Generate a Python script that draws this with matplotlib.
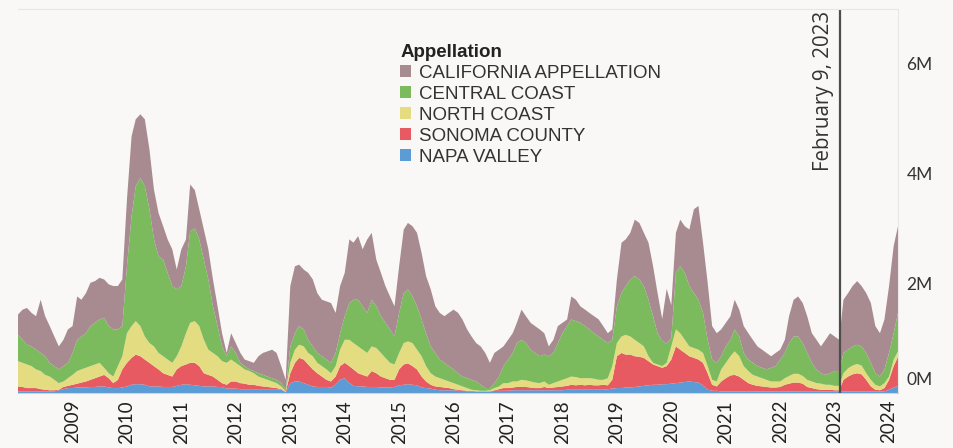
import matplotlib
matplotlib.use("Agg")
import matplotlib.pyplot as plt
import matplotlib.transforms as mtransforms
from matplotlib.patches import Patch
import pandas as pd

# monthly sales by appellation, millions (Jan 2008 .. Mar 2024)
months = pd.date_range("2008-01-01", periods=195, freq="MS")

napa = [
    0.03, 0.03, 0.03, 0.03, 0.03, 0.03, 0.03, 0.03, 0.03, 0.05,
    0.07, 0.09, 0.09, 0.10, 0.10, 0.10, 0.11, 0.11, 0.12, 0.12,
    0.10, 0.09, 0.09, 0.10, 0.12, 0.15, 0.16, 0.16, 0.15, 0.12,
    0.12, 0.12, 0.11, 0.11, 0.11, 0.13, 0.15, 0.16, 0.15, 0.14,
    0.13, 0.12, 0.12, 0.12, 0.11, 0.11, 0.08, 0.08, 0.08, 0.07,
    0.07, 0.07, 0.07, 0.07, 0.07, 0.07, 0.07, 0.07, 0.06, 0.01,
    0.18, 0.21, 0.21, 0.18, 0.15, 0.12, 0.11, 0.11, 0.11, 0.10,
    0.15, 0.24, 0.27, 0.18, 0.13, 0.12, 0.12, 0.11, 0.11, 0.11,
    0.10, 0.10, 0.10, 0.11, 0.14, 0.15, 0.16, 0.15, 0.14, 0.10,
    0.09, 0.08, 0.06, 0.05, 0.05, 0.05, 0.05, 0.04, 0.04, 0.03,
    0.03, 0.02, 0.02, 0.02, 0.02, 0.04, 0.04, 0.04, 0.04, 0.05,
    0.05, 0.05, 0.05, 0.05, 0.05, 0.05, 0.05, 0.05, 0.05, 0.05,
    0.05, 0.06, 0.06, 0.06, 0.06, 0.06, 0.06, 0.06, 0.06, 0.06,
    0.07, 0.08, 0.09, 0.09, 0.10, 0.10, 0.11, 0.12, 0.13, 0.14,
    0.15, 0.15, 0.16, 0.16, 0.17, 0.18, 0.19, 0.20, 0.21, 0.20,
    0.19, 0.14, 0.06, 0.04, 0.04, 0.03, 0.03, 0.03, 0.03, 0.03,
    0.03, 0.03, 0.03, 0.03, 0.03, 0.03, 0.03, 0.03, 0.03, 0.03,
    0.03, 0.03, 0.03, 0.03, 0.03, 0.03, 0.03, 0.03, 0.03, 0.03,
    0.03, 0.03, 0.03, 0.03, 0.03, 0.03, 0.03, 0.03, 0.03, 0.03,
    0.03, 0.03, 0.06, 0.10, 0.13,
]
sonoma = [
    0.09, 0.08, 0.06, 0.06, 0.06, 0.04, 0.03, 0.02, 0.02, 0.01,
    0.04, 0.04, 0.06, 0.07, 0.09, 0.11, 0.13, 0.16, 0.18, 0.21,
    0.17, 0.09, 0.15, 0.33, 0.43, 0.49, 0.54, 0.51, 0.46, 0.43,
    0.37, 0.31, 0.25, 0.22, 0.19, 0.30, 0.34, 0.36, 0.40, 0.41,
    0.36, 0.24, 0.21, 0.18, 0.13, 0.07, 0.07, 0.13, 0.13, 0.11,
    0.10, 0.08, 0.08, 0.06, 0.05, 0.04, 0.03, 0.02, 0.01, 0.01,
    0.18, 0.34, 0.43, 0.43, 0.37, 0.31, 0.25, 0.19, 0.13, 0.11,
    0.15, 0.25, 0.28, 0.31, 0.30, 0.24, 0.21, 0.19, 0.29, 0.25,
    0.20, 0.17, 0.14, 0.13, 0.29, 0.37, 0.38, 0.34, 0.29, 0.20,
    0.12, 0.07, 0.06, 0.06, 0.05, 0.04, 0.02, 0.02, 0.01, 0.01,
    0.01, 0.01, 0.01, 0.01, 0.01, 0.01, 0.03, 0.05, 0.05, 0.05,
    0.06, 0.06, 0.06, 0.05, 0.04, 0.04, 0.06, 0.04, 0.05, 0.06,
    0.07, 0.07, 0.09, 0.08, 0.09, 0.08, 0.09, 0.08, 0.08, 0.09,
    0.07, 0.16, 0.58, 0.64, 0.60, 0.60, 0.56, 0.54, 0.51, 0.44,
    0.37, 0.34, 0.30, 0.33, 0.44, 0.67, 0.60, 0.53, 0.46, 0.44,
    0.42, 0.41, 0.30, 0.11, 0.08, 0.18, 0.24, 0.29, 0.30, 0.27,
    0.21, 0.15, 0.12, 0.10, 0.09, 0.08, 0.07, 0.07, 0.08, 0.12,
    0.14, 0.16, 0.16, 0.14, 0.08, 0.06, 0.04, 0.03, 0.03, 0.03,
    0.02, 0.02, 0.21, 0.27, 0.31, 0.33, 0.31, 0.21, 0.09, 0.03,
    0.02, 0.06, 0.18, 0.39, 0.53,
]
north_coast = [
    0.46, 0.44, 0.43, 0.40, 0.34, 0.33, 0.27, 0.25, 0.19, 0.12,
    0.10, 0.14, 0.18, 0.23, 0.24, 0.25, 0.25, 0.25, 0.25, 0.13,
    0.09, 0.12, 0.25, 0.24, 0.54, 0.58, 0.61, 0.55, 0.42, 0.36,
    0.36, 0.30, 0.31, 0.28, 0.25, 0.24, 0.36, 0.57, 0.73, 0.76,
    0.73, 0.61, 0.46, 0.43, 0.43, 0.40, 0.40, 0.40, 0.34, 0.31,
    0.26, 0.25, 0.21, 0.17, 0.15, 0.13, 0.11, 0.09, 0.05, 0.01,
    0.19, 0.24, 0.24, 0.24, 0.21, 0.24, 0.19, 0.19, 0.19, 0.15,
    0.19, 0.30, 0.42, 0.48, 0.48, 0.49, 0.46, 0.43, 0.45, 0.46,
    0.43, 0.37, 0.31, 0.28, 0.30, 0.39, 0.40, 0.42, 0.36, 0.37,
    0.28, 0.21, 0.18, 0.16, 0.14, 0.12, 0.11, 0.09, 0.07, 0.05,
    0.02, 0.02, 0.01, 0.01, 0.02, 0.04, 0.05, 0.09, 0.09, 0.11,
    0.10, 0.13, 0.12, 0.11, 0.10, 0.09, 0.10, 0.06, 0.08, 0.10,
    0.12, 0.14, 0.15, 0.15, 0.12, 0.13, 0.12, 0.12, 0.10, 0.09,
    0.13, 0.25, 0.24, 0.30, 0.36, 0.33, 0.30, 0.25, 0.21, 0.09,
    0.03, 0.03, 0.03, 0.06, 0.24, 0.31, 0.30, 0.24, 0.18, 0.18,
    0.18, 0.18, 0.13, 0.09, 0.09, 0.22, 0.28, 0.35, 0.43, 0.37,
    0.25, 0.22, 0.18, 0.17, 0.15, 0.13, 0.11, 0.11, 0.10, 0.12,
    0.14, 0.16, 0.16, 0.14, 0.13, 0.12, 0.11, 0.11, 0.09, 0.09,
    0.08, 0.08, 0.12, 0.15, 0.16, 0.17, 0.16, 0.12, 0.12, 0.09,
    0.07, 0.09, 0.06, 0.12, 0.10,
]
central_coast = [
    0.48, 0.42, 0.36, 0.36, 0.36, 0.33, 0.34, 0.25, 0.25, 0.25,
    0.28, 0.28, 0.40, 0.57, 0.60, 0.63, 0.73, 0.76, 0.79, 0.91,
    0.86, 0.86, 0.67, 0.55, 1.22, 2.00, 2.46, 2.70, 2.74, 2.44,
    1.95, 1.76, 1.76, 1.58, 1.40, 1.22, 1.10, 1.22, 1.67, 1.69,
    1.58, 1.46, 1.28, 0.85, 0.55, 0.27, 0.12, 0.24, 0.18, 0.06,
    0.06, 0.03, 0.04, 0.06, 0.06, 0.06, 0.06, 0.06, 0.06, 0.03,
    0.30, 0.30, 0.34, 0.31, 0.24, 0.18, 0.18, 0.18, 0.18, 0.19,
    0.24, 0.30, 0.43, 0.67, 0.79, 0.85, 0.79, 0.73, 0.85, 0.76,
    0.67, 0.64, 0.61, 0.51, 0.73, 0.91, 0.95, 0.85, 0.79, 0.67,
    0.60, 0.49, 0.43, 0.34, 0.31, 0.28, 0.25, 0.21, 0.18, 0.18,
    0.18, 0.16, 0.11, 0.05, 0.04, 0.09, 0.18, 0.31, 0.43, 0.52,
    0.70, 0.73, 0.68, 0.58, 0.54, 0.49, 0.49, 0.52, 0.55, 0.70,
    0.85, 0.95, 1.04, 1.02, 1.01, 0.95, 0.89, 0.83, 0.79, 0.73,
    0.64, 0.48, 0.67, 0.79, 0.89, 1.04, 1.16, 1.16, 1.10, 1.03,
    0.85, 0.57, 0.46, 0.35, 0.15, 1.03, 1.22, 1.22, 1.10, 1.00,
    0.91, 0.73, 0.48, 0.37, 0.34, 0.24, 0.30, 0.30, 0.40, 0.36,
    0.24, 0.21, 0.22, 0.19, 0.19, 0.19, 0.25, 0.28, 0.40, 0.46,
    0.60, 0.68, 0.68, 0.60, 0.49, 0.34, 0.25, 0.19, 0.18, 0.21,
    0.27, 0.27, 0.37, 0.34, 0.35, 0.35, 0.35, 0.37, 0.31, 0.21,
    0.18, 0.25, 0.43, 0.48, 0.70,
]
california = [
    0.37, 0.55, 0.67, 0.61, 0.61, 0.97, 0.73, 0.67, 0.54, 0.42,
    0.48, 0.61, 0.49, 0.79, 0.67, 0.73, 0.79, 0.76, 0.76, 0.70,
    0.76, 0.79, 0.79, 0.85, 1.22, 1.46, 1.22, 1.16, 1.22, 1.09,
    0.91, 0.79, 0.61, 0.61, 0.67, 0.36, 0.67, 0.49, 0.85, 0.70,
    0.55, 0.55, 0.55, 0.49, 0.36, 0.24, 0.06, 0.24, 0.18, 0.18,
    0.12, 0.15, 0.15, 0.31, 0.40, 0.46, 0.52, 0.49, 0.31, 0.18,
    1.10, 1.22, 1.12, 1.09, 1.22, 1.22, 1.09, 1.03, 1.06, 1.09,
    0.73, 0.86, 0.79, 1.16, 1.04, 1.16, 1.04, 1.34, 1.22, 0.85,
    0.79, 0.67, 0.60, 0.55, 0.85, 1.16, 1.21, 1.28, 1.34, 1.21,
    1.04, 1.04, 0.85, 0.85, 0.85, 0.97, 1.09, 1.10, 1.04, 0.89,
    0.79, 0.70, 0.70, 0.64, 0.46, 0.55, 0.49, 0.36, 0.36, 0.36,
    0.37, 0.55, 0.49, 0.49, 0.49, 0.49, 0.39, 0.18, 0.24, 0.31,
    0.19, 0.12, 0.42, 0.39, 0.30, 0.30, 0.30, 0.31, 0.31, 0.25,
    0.18, 0.19, 0.49, 0.92, 0.85, 0.85, 1.03, 1.03, 0.97, 1.04,
    0.91, 0.73, 0.40, 1.00, 0.60, 0.73, 0.85, 0.85, 1.03, 1.53,
    1.71, 1.28, 1.04, 0.61, 0.54, 0.49, 0.43, 0.43, 0.54, 0.49,
    0.49, 0.48, 0.42, 0.36, 0.33, 0.30, 0.21, 0.24, 0.18, 0.24,
    0.49, 0.67, 0.73, 0.73, 0.67, 0.54, 0.54, 0.49, 0.64, 0.73,
    0.63, 0.57, 0.97, 1.03, 1.10, 1.16, 1.10, 1.09, 1.09, 0.86,
    0.79, 0.91, 1.22, 1.59, 1.58,
]

series_labels = ["NAPA VALLEY", "SONOMA COUNTY", "NORTH COAST",
                 "CENTRAL COAST", "CALIFORNIA APPELLATION"]
colors = ["#5b9bd6", "#e85a62", "#e4dc80", "#7bba5d", "#a78b90"]
year_ticks = pd.date_range("2009-01-01", "2024-01-01", freq="YS")
marker_date = pd.Timestamp("2023-02-09")

bg = "#faf8f6"
fig = plt.figure(figsize=(9.54, 4.48), dpi=100, facecolor=bg)
ax = fig.add_axes([18 / 954, 1 - 393 / 448, 880 / 954, 384 / 448])
ax.set_facecolor(bg)

ax.stackplot(months, napa, sonoma, north_coast, central_coast, california,
             colors=colors, linewidth=0)

ax.set_xlim(months[0], months[-1])
ax.set_ylim(0, 7.0)

# reference line
ax.axvline(marker_date, color="#4d4d4d", linewidth=1.6)
ax.text(marker_date - pd.Timedelta(days=45), 6.97, "February 9, 2023",
        rotation=90, ha="right", va="top", fontsize=14.8,
        family="Open Sans", color="#333333")

# axes styling
ax.spines["left"].set_visible(False)
ax.spines["bottom"].set_color("#d6d2cf")
ax.spines["top"].set_color("#e8e4e1")
ax.spines["right"].set_color("#ebe7e4")

ax.set_xticks(year_ticks)
ax.set_xticklabels([str(d.year) for d in year_ticks], rotation=90,
                   fontsize=13.5, family="Lato", color="#222222")
ax.tick_params(axis="x", length=0, pad=5)

ax.yaxis.tick_right()
ax.set_yticks([0, 2, 4, 6])
ax.set_yticklabels([f"{v}M" for v in [0, 2, 4, 6]], fontsize=12.5,
                   family="Lato", color="#333333")
ax.tick_params(axis="y", length=0, pad=6)
# Tableau lifts the bottom label inside the pane
zero_label = ax.yaxis.get_major_ticks()[0].label2
zero_label.set_transform(zero_label.get_transform() +
                         mtransforms.ScaledTranslation(0, 0.15, fig.dpi_scale_trans))

# legend, top entry first
handles = [Patch(facecolor=c, edgecolor="none") for c in colors][::-1]
leg = ax.legend(handles, series_labels[::-1], title="Appellation",
                loc="upper left", bbox_to_anchor=(387 / 954, 1 - 31 / 448),
                bbox_transform=fig.transFigure, frameon=False,
                prop={"family": "Liberation Sans", "size": 13.5},
                handlelength=0.6, handleheight=0.6, handletextpad=0.4,
                labelspacing=0.21, borderpad=0.2, alignment="left")
leg.get_title().set_fontweight("bold")
leg.get_title().set_fontsize(13.5)
leg.get_title().set_family("Liberation Sans")
leg.get_title().set_color("#222222")
for t in leg.get_texts():
    t.set_color("#333333")

fig.savefig("out.png", dpi=100, facecolor=bg)
